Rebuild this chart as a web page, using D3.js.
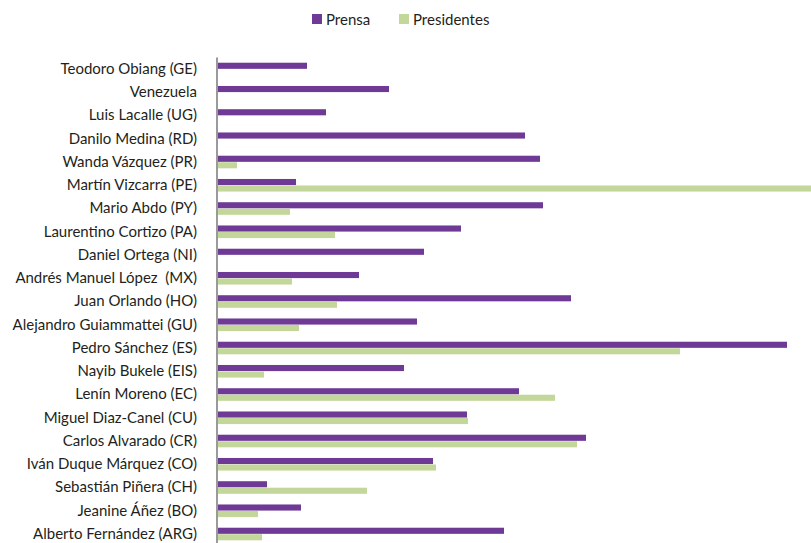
<!DOCTYPE html>
<html>
<head>
<meta charset="utf-8">
<script src="https://cdn.jsdelivr.net/npm/d3@7"></script>
<style>
  html, body { margin: 0; padding: 0; background: #ffffff; }
  svg { display: block; }
  text { white-space: pre; }
</style>
</head>
<body>
<script>
const categories = [
  "Teodoro Obiang (GE)", "Venezuela", "Luis Lacalle (UG)", "Danilo Medina (RD)",
  "Wanda Vázquez (PR)", "Martín Vizcarra (PE)", "Mario Abdo (PY)", "Laurentino Cortizo (PA)",
  "Daniel Ortega (NI)", "Andrés Manuel López  (MX)", "Juan Orlando (HO)", "Alejandro Guiammattei (GU)",
  "Pedro Sánchez (ES)", "Nayib Bukele (EIS)", "Lenín Moreno (EC)", "Miguel Diaz-Canel (CU)",
  "Carlos Alvarado (CR)", "Iván Duque Márquez (CO)", "Sebastián Piñera (CH)", "Jeanine Áñez (BO)",
  "Alberto Fernández (ARG)"
];
const seriesNames = ["Prensa", "Presidentes"];
const prensa = [89, 171, 108, 307, 322, 78, 325, 243, 206, 141, 353, 199, 569, 186, 301, 249, 368, 215, 49, 83, 286];
const presidentes = [0, 0, 0, 0, 19, 593, 72, 117, 0, 74, 119, 81, 462, 46, 337, 250, 359, 218, 149, 40, 44];
const xMax = 593;

const colors = { "Prensa": "#6f3996", "Presidentes": "#c4d79b" };

const W = 811, H = 543;
const svg = d3.select("body").append("svg").attr("width", W).attr("height", H);

const x0 = 218;
const x = d3.scaleLinear().domain([0, xMax]).range([x0, W]);
const y = d3.scaleBand().domain(categories).range([57.4, 545.65]).paddingInner(0.458).paddingOuter(0.229);
const ys = d3.scaleBand().domain(seriesNames).range([0, y.bandwidth()]).paddingInner(0.06);

const data = categories.map((c, i) => ({ cat: c, values: [
  { s: "Prensa", v: prensa[i] }, { s: "Presidentes", v: presidentes[i] }
]}));

const font = "'Lato', 'Open Sans', sans-serif";

// bars
const g = svg.append("g");
const groups = g.selectAll("g.cat").data(data).join("g")
  .attr("class", "cat")
  .attr("transform", d => `translate(0,${y(d.cat)})`);
groups.selectAll("rect").data(d => d.values.filter(e => e.v > 0)).join("rect")
  .attr("x", x(0))
  .attr("y", d => ys(d.s))
  .attr("height", ys.bandwidth())
  .attr("width", d => x(d.v) - x(0))
  .attr("fill", d => colors[d.s]);

// y axis
const yAxis = d3.axisLeft(y).tickSize(0).tickPadding(20);
const ag = svg.append("g").attr("transform", `translate(${x0 - 1},0)`).call(yAxis);
ag.select(".domain").attr("stroke", "#9a9a9a").attr("stroke-width", 2).attr("d", `M0,57.4V${H}`);
ag.selectAll("text")
  .attr("font-family", font)
  .attr("font-size", 15)
  .attr("fill", "#231f20");

// legend
const legendItems = [{ s: "Prensa", x: 312 }, { s: "Presidentes", x: 399 }];
const lg = svg.append("g");
legendItems.forEach(it => {
  lg.append("rect").attr("x", it.x).attr("y", 14).attr("width", 10).attr("height", 10).attr("fill", colors[it.s]);
  lg.append("text").attr("x", it.x + 14).attr("y", 24.5)
    .attr("font-family", font).attr("font-size", 15).attr("fill", "#231f20").text(it.s);
});
</script>
</body>
</html>
